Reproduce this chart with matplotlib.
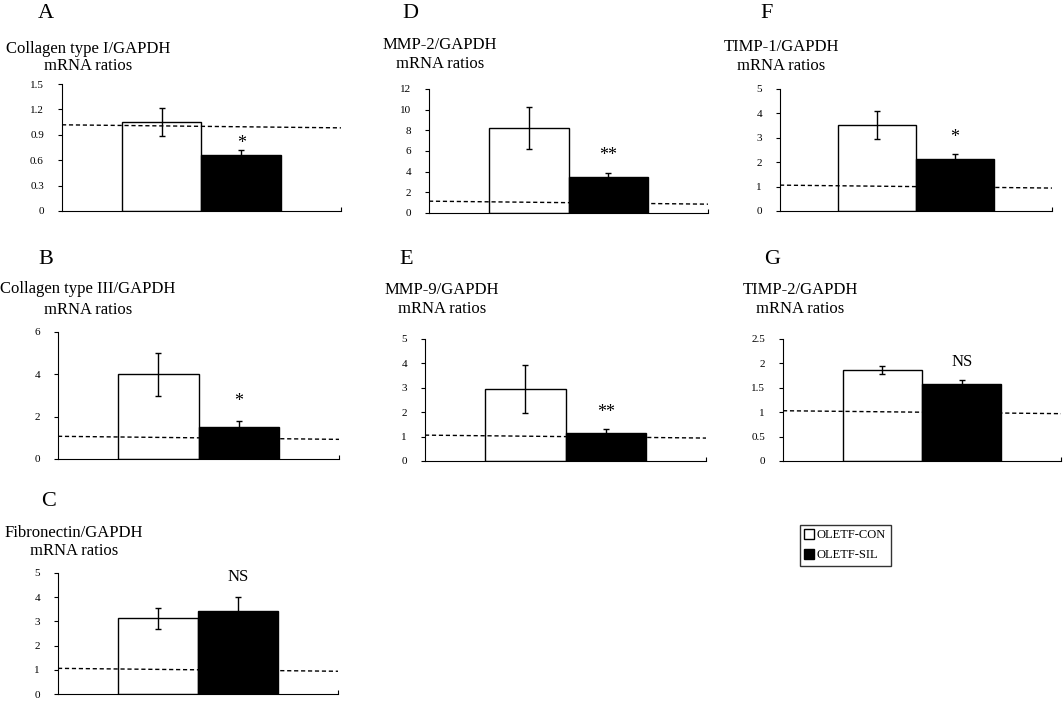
import numpy as np
import matplotlib
matplotlib.use('Agg')
import matplotlib.pyplot as plt
from matplotlib.patches import Patch

plt.rcParams['font.family'] = ['Liberation Serif', 'DejaVu Serif']

groups = ['OLETF-CON', 'OLETF-SIL']

# panel data: label, title, control mean/sd, silent mean/sd, sig, y ticks
panel_labels = ['A', 'B', 'C', 'D', 'E', 'F', 'G']
titles = ['Collagen type I/GAPDH', 'Collagen type III/GAPDH', 'Fibronectin/GAPDH',
          'MMP-2/GAPDH', 'MMP-9/GAPDH', 'TIMP-1/GAPDH', 'TIMP-2/GAPDH']
con_mean = [1.05, 4.0, 3.12, 8.2, 2.95, 3.52, 1.87]
con_err = [0.17, 1.02, 0.42, 2.05, 1.0, 0.57, 0.08]
sil_mean = [0.66, 1.5, 3.42, 3.5, 1.15, 2.12, 1.57]
sil_err = [0.06, 0.3, 0.6, 0.35, 0.15, 0.23, 0.1]
sig = ['*', '*', 'NS', '**', '**', '*', 'NS']
yticks = [[0, 0.3, 0.6, 0.9, 1.2, 1.5], [0, 2, 4, 6], [0, 1, 2, 3, 4, 5],
          [0, 2, 4, 6, 8, 10, 12], [0, 1, 2, 3, 4, 5], [0, 1, 2, 3, 4, 5],
          [0, 0.5, 1, 1.5, 2, 2.5]]
ref_level = 1.0

W, H = 1064, 702
fig = plt.figure(figsize=(W / 100, H / 100), dpi=100)

# layout in pixels
boxes = [(62, 84, 341, 211), (58, 332, 339, 459), (58, 573, 338, 694),
         (429, 89, 708, 213), (425, 339, 706, 461), (780, 89, 1052, 211),
         (783, 339, 1061, 461)]
title_pos = [(88, 49, 66), (88, 289, 310), (74, 533, 551), (440, 45, 64),
             (442, 290, 309), (781, 47, 66), (800, 290, 309)]
letter_pos = [(46, 14), (46, 260), (49, 502), (410, 14), (406, 260), (767, 13), (772, 260)]
sig_gap = [7, 19, 20, 18, 17, 16, 18]  # px above error bar


def fx(x):
    return x / W


def fy(y):
    return 1 - y / H


for i in range(7):
    l, t, r, b = boxes[i]
    ax = fig.add_axes([fx(l), fy(b), (r - l) / W, (b - t) / H])
    x = np.array([0, 1])
    ax.bar(x[0], con_mean[i], width=1.0, facecolor='none', edgecolor='black', linewidth=1.0, zorder=3)
    ax.bar(x[1], sil_mean[i], width=1.0, facecolor='black', edgecolor='black', linewidth=1.0, zorder=4)
    ax.errorbar(x[0], con_mean[i], yerr=con_err[i], color='black', capsize=2.5, linewidth=1, zorder=5)
    ax.errorbar(x[1], sil_mean[i], yerr=sil_err[i], color='black', capsize=2.5, linewidth=1, zorder=5)
    # reference line at 1, drawn slightly tilted like the original scan
    tilt = 0.012 * yticks[i][-1]
    ax.plot([-1.25, 2.25], [ref_level + tilt, ref_level - tilt], color='black',
            linestyle=(0, (3, 2)), linewidth=1, zorder=2)
    ax.set_xlim(-1.25, 2.25)
    ax.set_ylim(0, yticks[i][-1])
    ax.set_yticks(yticks[i])
    ax.set_yticklabels([('%g' % v) for v in yticks[i]], fontsize=8)
    ax.set_xticks([2.25])
    ax.set_xticklabels([])
    ax.tick_params(axis='x', direction='in', length=3)
    ax.tick_params(axis='y', direction='out', length=3, pad=10)
    ax.spines['top'].set_visible(False)
    ax.spines['right'].set_visible(False)
    ax.patch.set_alpha(0)
    fs = 13 if sig[i] != 'NS' else 12
    ax.annotate(sig[i], (x[1], sil_mean[i] + sil_err[i]), xytext=(0, sig_gap[i] * 0.72),
                textcoords='offset points', ha='center', va='center', fontsize=fs)

    tx, ty1, ty2 = title_pos[i]
    fig.text(fx(tx), fy(ty1), titles[i], ha='center', va='center', fontsize=12)
    fig.text(fx(tx), fy(ty2), 'mRNA ratios', ha='center', va='center', fontsize=12)
    lx, ly = letter_pos[i]
    fig.text(fx(lx), fy(ly), panel_labels[i], ha='center', va='center', fontsize=16)

handles = [Patch(facecolor='white', edgecolor='black'), Patch(facecolor='black', edgecolor='black')]
fig.legend(handles, groups, loc='upper left', bbox_to_anchor=(fx(800), fy(525)),
           frameon=True, fancybox=False, edgecolor='black', fontsize=9,
           handlelength=0.8, handleheight=0.8, handletextpad=0.2, borderpad=0.35,
           labelspacing=0.6, borderaxespad=0)

fig.savefig('out.png', dpi=100)
